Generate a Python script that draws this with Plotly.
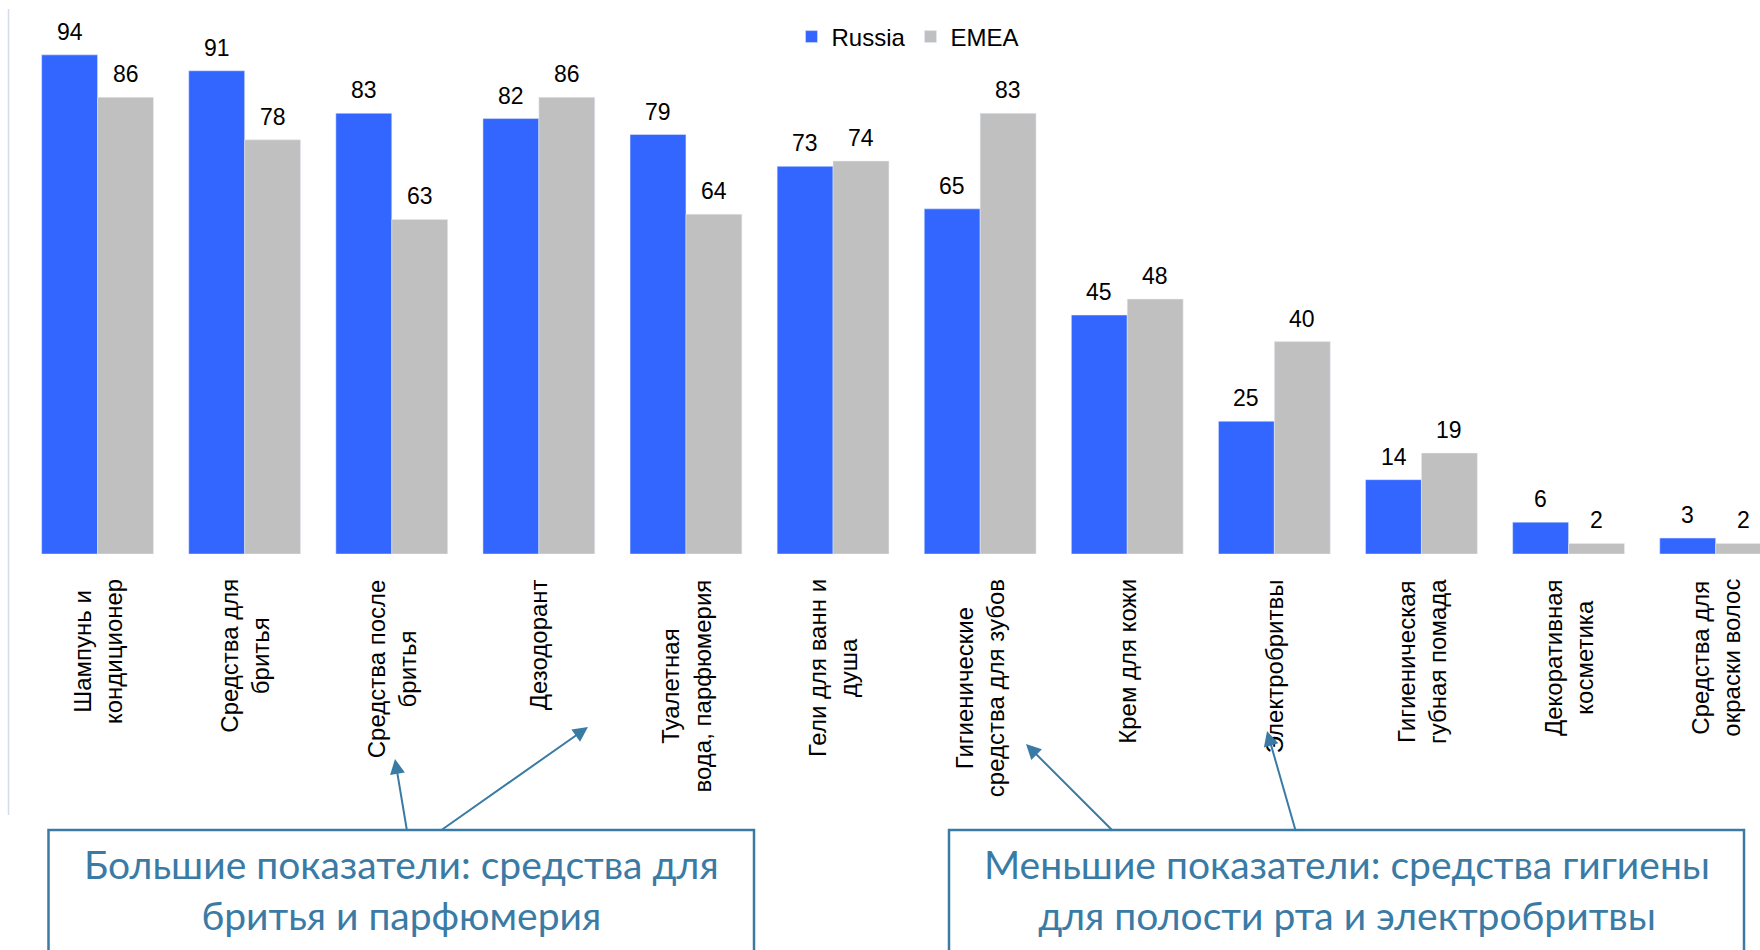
import plotly.graph_objects as go

categories = [
    "Шампунь и<br>кондиционер",
    "Средства для<br>бритья",
    "Средства после<br>бритья",
    "Дезодорант",
    "Туалетная<br>вода, парфюмерия",
    "Гели для ванн и<br>душа",
    "Гигиенические<br>средства для зубов",
    "Крем для кожи",
    "Электробритвы",
    "Гигиеническая<br>губная помада",
    "Декоративная<br>косметика",
    "Средства для<br>окраски волос",
]
russia = [94, 91, 83, 82, 79, 73, 65, 45, 25, 14, 6, 3]
emea = [86, 78, 63, 86, 64, 74, 83, 48, 40, 19, 2, 2]

W, H = 1760, 950
ML, MR, MT, MB = 24, 0, 23, 396
PW, PH = W - ML - MR, H - MT - MB
BASE = H - MB

def px2x(px):
    return (px - ML) / PW

def px2y(py):
    return (BASE - py) / PH

BLUE = "#3366FF"
GREY = "#C0C0C0"
ACCENT = "#3A7BA6"
BARGAP = 0.24
half = (1 - BARGAP) / 4
ARIAL = "Liberation Sans, Arial"

fig = go.Figure()
fig.add_trace(go.Bar(name="Russia", x=categories, y=russia, marker_color=BLUE))
fig.add_trace(go.Bar(name="EMEA", x=categories, y=emea, marker_color=GREY))

annotations = []
for i, (r, e) in enumerate(zip(russia, emea)):
    for off, v in ((-half, r), (half, e)):
        annotations.append(dict(
            x=i + off, y=v, xref="x", yref="y", text=str(v), showarrow=False,
            yanchor="bottom", yshift=8,
            font=dict(family=ARIAL, size=23, color="#000000"),
        ))

# category labels (rotated, lines centred on each other)
for i, cat in enumerate(categories):
    annotations.append(dict(
        x=i, y=0, xref="x", yref="y", text=cat, showarrow=False,
        textangle=-90, align="center", xanchor="center", yanchor="top", yshift=-23,
        font=dict(family=ARIAL, size=24, color="#000000"),
    ))

# callout boxes
boxes = [
    ((48.5, 754), "Большие показатели: средства для<br>бритья и парфюмерия"),
    ((949, 1744), "Меньшие показатели: средства гигиены<br>для полости рта и электробритвы"),
]
shapes = []
for (x0, x1), txt in boxes:
    shapes.append(dict(type="rect", xref="paper", yref="paper",
                       x0=px2x(x0), x1=px2x(x1), y0=px2y(830), y1=px2y(975),
                       line=dict(color=ACCENT, width=2.5), fillcolor="rgba(0,0,0,0)"))
    annotations.append(dict(
        x=px2x((x0 + x1) / 2), y=px2y(889.5), xref="paper", yref="paper",
        text=txt, showarrow=False, xanchor="center", yanchor="middle",
        font=dict(family="Lato", size=39, color=ACCENT),
    ))

# left thin vertical line
shapes.append(dict(type="line", xref="paper", yref="paper",
                   x0=px2x(8.5), x1=px2x(8.5), y0=px2y(9), y1=px2y(815),
                   line=dict(color="#D3DCE8", width=1.5)))

arrows = [
    ((395, 759), (407, 831)),
    ((588, 727), (440, 831)),
    ((1026, 744), (1114, 832)),
    ((1267, 731), (1296, 832)),
]
for (hx, hy), (tx, ty) in arrows:
    annotations.append(dict(
        x=px2x(hx), y=px2y(hy), xref="paper", yref="paper",
        ax=tx - hx, ay=ty - hy, axref="pixel", ayref="pixel",
        text="", showarrow=True, arrowhead=2, arrowsize=1.5, arrowwidth=2,
        arrowcolor=ACCENT, standoff=0, startstandoff=0,
    ))

fig.update_layout(
    width=W, height=H,
    margin=dict(l=ML, r=MR, t=MT, b=MB, autoexpand=False),
    barmode="group", bargap=BARGAP, bargroupgap=0,
    plot_bgcolor="white", paper_bgcolor="white",
    font=dict(family=ARIAL, color="#000000"),
    showlegend=True,
    legend=dict(orientation="h", x=px2x(908), y=px2y(37), xanchor="center", yanchor="middle",
                font=dict(size=24, family=ARIAL), bgcolor="rgba(0,0,0,0)"),
    annotations=annotations,
    shapes=shapes,
)
fig.update_xaxes(range=[-0.5, (W - ML) / 147.1 - 0.5], showticklabels=False,
                 showline=False, ticks="", showgrid=False)
fig.update_yaxes(range=[0, 100], visible=False, showgrid=False)

fig.write_html("out.html", config={"displayModeBar": False})
with open("out.html", encoding="utf-8") as f:
    html = f.read()
html = html.replace("<head>", "<head><style>html,body{margin:0;padding:0;overflow:hidden;}</style>", 1)
with open("out.html", "w", encoding="utf-8") as f:
    f.write(html)
